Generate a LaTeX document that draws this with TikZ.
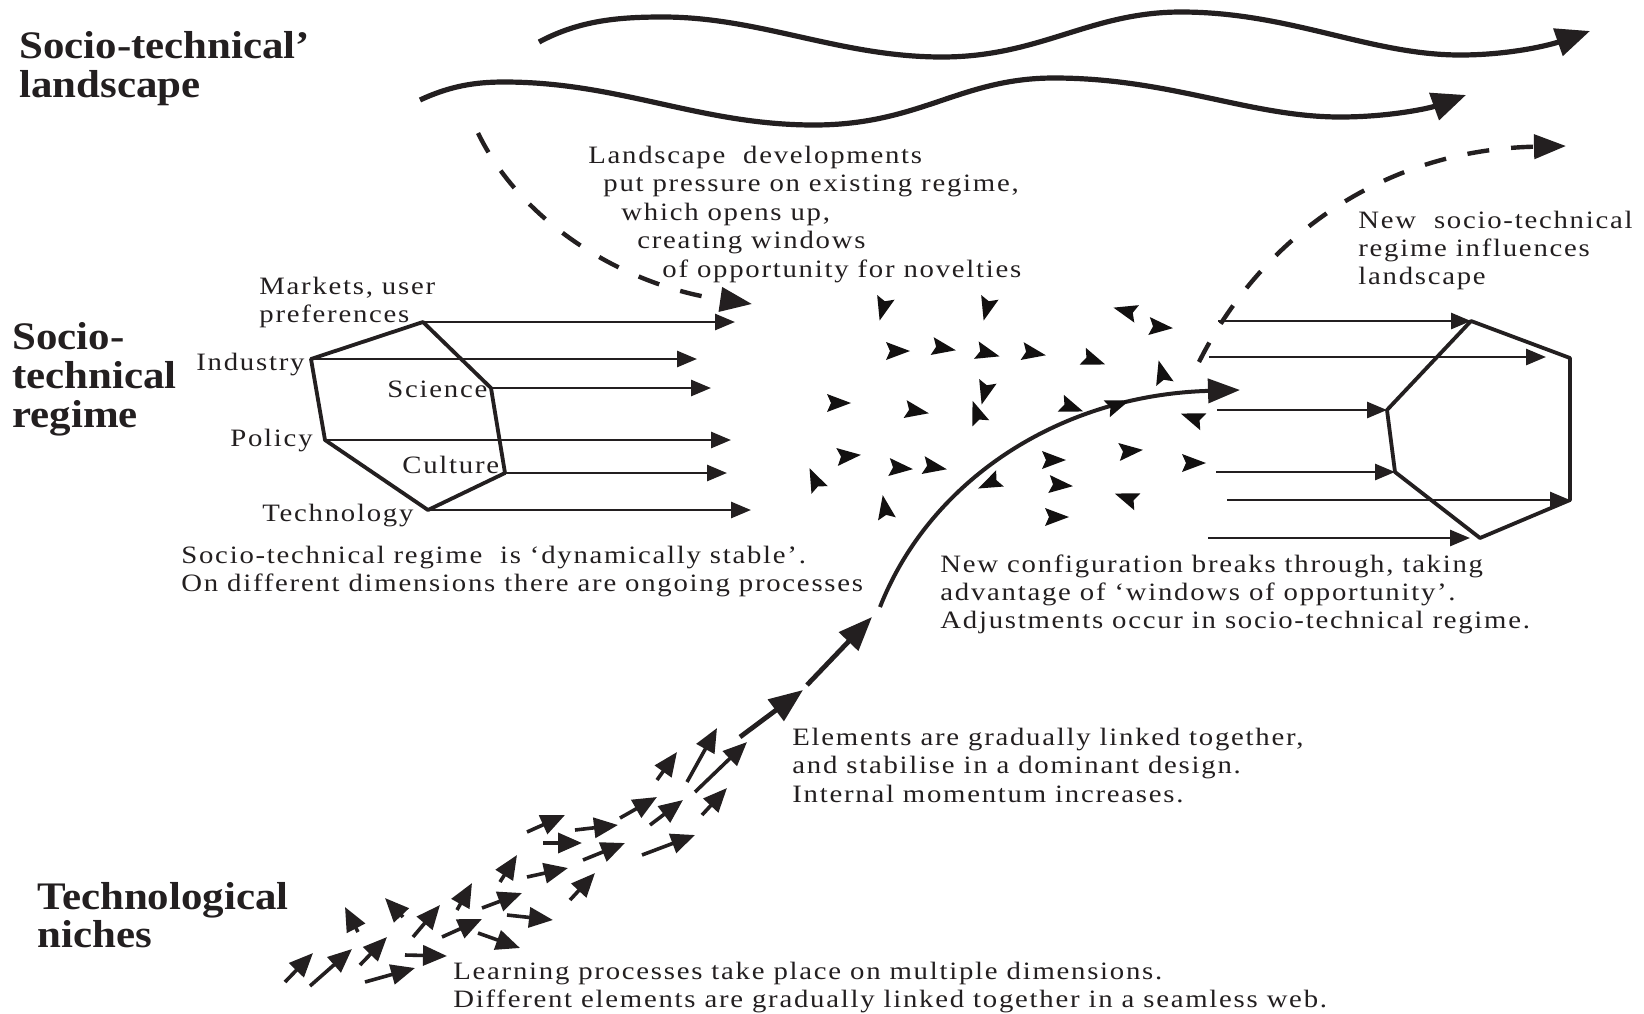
\documentclass[tikz,border=0pt]{standalone}
\usepackage{fontspec}
\setmainfont{Liberation Serif}[FakeStretch=1.15,LetterSpace=7]
\newfontfamily\headfont{Liberation Serif}[FakeStretch=1.1]
\usetikzlibrary{arrows.meta}
\definecolor{ink}{RGB}{35,31,32}
\definecolor{dartc}{RGB}{18,16,16}
\newcommand\bodyfont{\fontsize{12.5}{14}\selectfont}
\newcommand\headsize{\headfont\bfseries\fontsize{19.5}{22}\selectfont}
\begin{document}
\begin{tikzpicture}[x=0.5pt,y=-0.5pt,line join=round,
  wave/.style={draw=ink,line width=2.6pt,-{Triangle[length=17pt,width=14pt]}},
  dashes/.style={draw=ink,line width=2.2pt,dash pattern=on 11pt off 11pt,-{Triangle[length=16pt,width=12pt]}},
  hexedge/.style={draw=ink,line width=1.9pt},
  dim/.style={draw=ink,line width=1.4pt,-{Triangle[length=10pt,width=8pt]}},
  trail/.style={draw=ink,line width=2pt,-{Triangle[length=16pt,width=12pt]}},
  surge/.style={draw=ink,line width=2.4pt,-{Triangle[length=17pt,width=13pt]}},
  seed/.style={draw=ink,line width=1.8pt,-{Triangle[length=12pt,width=10pt]}},
  txt/.style={anchor=base west,inner sep=0pt,font=\bodyfont,text=ink},
  head/.style={anchor=base west,inner sep=0pt,font=\headsize,text=ink}]

\fill[white] (0,0) rectangle (1644,1013);
\useasboundingbox (0,0) rectangle (1644,1013);

% level headings
\node[head] (hLand1) at (19,58) {Socio-technical’};
\node[head] (hLand2) at (19,97) {landscape};
\node[head] (hReg1) at (12,349) {Socio-};
\node[head] (hReg2) at (12,388) {technical};
\node[head] (hReg3) at (12,427) {regime};
\node[head] (hNiche1) at (37,909) {Technological};
\node[head] (hNiche2) at (37,947) {niches};

% landscape trends
\draw[wave] (539,42) .. controls (580,20) and (620,17) .. (663,17)
  .. controls (760,17) and (840,57) .. (942,57)
  .. controls (1040,57) and (1090,12) .. (1181,12)
  .. controls (1290,12) and (1370,55) .. (1460,55)
  .. controls (1510,55) and (1550,45) .. (1590,31);
\draw[wave] (420,100) .. controls (450,86) and (475,82) .. (504,82)
  .. controls (620,82) and (700,125) .. (814,125)
  .. controls (920,125) and (960,78) .. (1054,78)
  .. controls (1170,78) and (1250,117) .. (1340,117)
  .. controls (1390,117) and (1430,108) .. (1466,95);

% landscape pressure and feedback
\coordinate (P0) at (478,133);
\coordinate (P1) at (752,304);
\draw[dashes] (P0) .. controls (520,220) and (620,285) .. (P1);
\coordinate (F0) at (1199,362);
\coordinate (F1) at (1566,146);
\draw[dashes] (F0) .. controls (1260,240) and (1380,150) .. (F1);

% existing regime
\coordinate (Lm) at (423,322);
\coordinate (Li) at (311,359);
\coordinate (Lp) at (325,440);
\coordinate (Lt) at (428,510);
\coordinate (Lc) at (505,473);
\coordinate (Ls) at (491,388);
\draw[hexedge] (Lm) -- (Ls) -- (Lc) -- (Lt) -- (Lp) -- (Li) -- cycle;
\coordinate (Em) at (735,322);
\coordinate (Ei) at (697,359);
\coordinate (Es) at (711,388);
\coordinate (Ep) at (731,440);
\coordinate (Ec) at (727,473);
\coordinate (Et) at (751,510);
\draw[dim] (Lm) -- (Em);
\draw[dim] (Li) -- (Ei);
\draw[dim] (Ls) -- (Es);
\draw[dim] (Lp) -- (Ep);
\draw[dim] (Lc) -- (Ec);
\draw[dim] (Lt) -- (Et);

\node[txt] (lMarkets) at (259,294) {Markets, user};
\node[txt] (lPref) at (259,322) {preferences};
\node[txt] (lInd) at (196,370) {Industry};
\node[txt] (lSci) at (387,397) {Science};
\node[txt] (lPol) at (230,446) {Policy};
\node[txt] (lCul) at (402,473) {Culture};
\node[txt] (lTec) at (262,521) {Technology};

% new regime
\coordinate (R1) at (1471,321);
\coordinate (R2) at (1570,358);
\coordinate (R3) at (1570,500);
\coordinate (R4) at (1480,538);
\coordinate (R5) at (1395,472);
\coordinate (R6) at (1387,410);
\draw[hexedge] (R1) -- (R2) -- (R3) -- (R4) -- (R5) -- (R6) -- cycle;
\coordinate (S1) at (1218,321);
\coordinate (S2) at (1209,357);
\coordinate (T2) at (1546,357);
\coordinate (S3) at (1217,410);
\coordinate (S4) at (1216,472);
\coordinate (S5) at (1227,500);
\coordinate (S6) at (1208,538);
\coordinate (T6) at (1470,538);
\draw[dim] (S1) -- (R1);
\draw[dim] (S2) -- (T2);
\draw[dim] (S3) -- (R6);
\draw[dim] (S4) -- (R5);
\draw[dim] (S5) -- (R3);
\draw[dim] (S6) -- (T6);

% breakthrough trajectory
\coordinate (C0) at (880,607);
\coordinate (C1) at (1240,390);
\draw[trail] (C0) .. controls (930,480) and (1060,395) .. (C1);
\draw[surge] (740,737) -- (803,690);
\draw[surge] (807,685) -- (872,617);

% niche experiments
\foreach \xa/\ya/\xb/\yb in {
  285/982/313/953, 310/986/352/949, 360/965/387/937, 365/982/415/968,
  405/955/447/956, 358/932/345/907, 403/917/385/898, 413/937/440/905,
  442/937/482/919, 478/933/520/948, 457/910/472/883, 482/908/522/893,
  507/915/553/920, 500/882/517/855, 527/877/568/868, 570/900/595/873,
  527/832/565/815, 543/843/582/843, 575/830/618/825, 583/860/625/843,
  642/855/695/835, 620/818/657/797, 650/825/683/800, 657/780/677/752,
  687/782/717/728, 695/792/747/742, 702/815/727/788}
  \draw[seed] (\xa,\ya) -- (\xb,\yb);

% scattered novelties around the regime
\foreach \xc/\yc/\rc in {
  883/308/-105, 987/308/-105, 1126/311/165, 1160/327/-5,
  897/351/0, 943/348/-10, 987/353/-15, 1033/353/-10, 1093/360/-20,
  1162/373/105, 838/403/0, 916/411/-10, 985/392/-105, 977/413/110,
  1071/407/-20, 1117/405/20, 1193/418/160, 848/456/5, 815/480/115,
  900/468/-5, 934/467/-10, 885/508/100, 990/483/205, 1053/460/0,
  1060/485/-5, 1130/451/5, 1127/498/160, 1056/517/0, 1193/463/0}
  \fill[dartc,shift={(\xc,\yc)},rotate=\rc] (13,0) -- (-11,9) -- (-7,0) -- (-11,-9) -- cycle;

% explanatory texts
\node[txt] (ld1) at (588,163) {Landscape\ \ developments};
\node[txt] (ld2) at (603,191) {put pressure on existing regime,};
\node[txt] (ld3) at (621,220) {which opens up,};
\node[txt] (ld4) at (637,248) {creating windows};
\node[txt] (ld5) at (662,277) {of opportunity for novelties};

\node[txt] (nr1) at (1358,228) {New\ \ socio-technical};
\node[txt] (nr2) at (1358,256) {regime influences};
\node[txt] (nr3) at (1358,284) {landscape};

\node[txt] (st1) at (181,563) {Socio-technical regime\ \ is ‘dynamically stable’.};
\node[txt] (st2) at (181,591) {On different dimensions there are ongoing processes};

\node[txt] (nc1) at (940,572) {New configuration breaks through, taking};
\node[txt] (nc2) at (940,600) {advantage of ‘windows of opportunity’.};
\node[txt] (nc3) at (940,628) {Adjustments occur in socio-technical regime.};

\node[txt] (el1) at (792,745) {Elements are gradually linked together,};
\node[txt] (el2) at (792,773) {and stabilise in a dominant design.};
\node[txt] (el3) at (792,802) {Internal momentum increases.};

\node[txt] (lp1) at (453,979) {Learning processes take place on multiple dimensions.};
\node[txt] (lp2) at (453,1007) {Different elements are gradually linked together in a seamless web.};
\end{tikzpicture}
\end{document}
